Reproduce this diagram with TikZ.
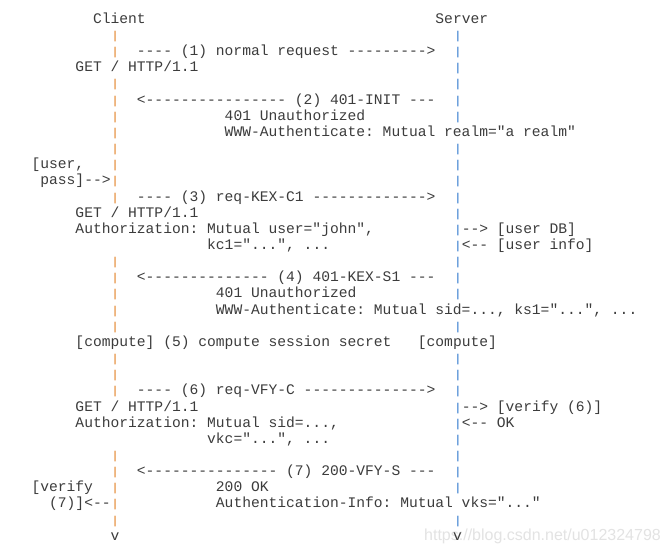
\documentclass[tikz,border=0pt]{standalone}
\usepackage{fontspec}
\usepackage{graphicx}
\newfontfamily\monof{Liberation Mono}[Ligatures=TeXOff]
\newfontfamily\wmfont{Liberation Sans}
\definecolor{txtc}{HTML}{3C3C3C}
\definecolor{clic}{HTML}{E89A50}
\definecolor{srvc}{HTML}{5B95D8}
\tikzset{
  txt/.style={anchor=base west, inner sep=0pt, outer sep=0pt,
    font=\monof\fontsize{14.63}{16}\selectfont\frenchspacing, text=txtc},
  clibar/.style={txt, text=clic},
  srvbar/.style={txt, text=srvc},
  wm/.style={anchor=base west, inner sep=0pt, font=\wmfont\fontsize{16}{18}\selectfont, text=gray!22}
}
\def\cw{8.78}
\def\xo{22.8}
\def\yb{23.4}
\def\lp{16.15}
\newcommand\tx[3]{\node[txt] (t#2c#1) at ({\xo+#1*\cw},{\yb+(#2-1)*\lp}) {#3};}
\newcommand\shortbar{\scalebox{1.15}[0.78]{|}}
\newcommand\clib[1]{\node[clibar] (cb#1) at ({\xo+10*\cw-0.6},{\yb+(#1-1)*\lp}) {\shortbar};}
\newcommand\srvb[1]{\node[srvbar] (sb#1) at ({\xo+49*\cw-0.2},{\yb+(#1-1)*\lp}) {\shortbar};}
\begin{document}
\begin{tikzpicture}[x=1pt,y=-1pt]
\useasboundingbox[fill=white] (0,0) rectangle (667,553);
% watermark
\node[wm] (wm) at (424,540) {https://blog.csdn.net/u012324798};
% lifelines
\foreach \r in {2,3,5,6,7,8,9,10,11,12,16,17,18,19,20,22,23,24,28,29,30,31,32} {\clib{\r}}
\foreach \r in {2,3,4,5,6,7,9,10,11,12,13,14,15,16,17,18,20,22,23,24,25,26,27,28,29,30,32} {\srvb{\r}}
% text rows
\tx{8}{1}{Client}
\tx{47}{1}{Server}
\tx{13}{3}{---- (1) normal request --------->}
\tx{6}{4}{GET / HTTP/1.1}
\tx{13}{6}{<---------------- (2) 401-INIT ---}
\tx{23}{7}{401 Unauthorized}
\tx{23}{8}{WWW-Authenticate: Mutual realm="a realm"}
\tx{1}{10}{[user,}
\tx{2}{11}{pass]-->}
\tx{13}{12}{---- (3) req-KEX-C1 ------------->}
\tx{6}{13}{GET / HTTP/1.1}
\tx{6}{14}{Authorization: Mutual user="john",}
\tx{50}{14}{--> [user DB]}
\tx{21}{15}{kc1="...", ...}
\tx{50}{15}{<-- [user info]}
\tx{13}{17}{<-------------- (4) 401-KEX-S1 ---}
\tx{22}{18}{401 Unauthorized}
\tx{22}{19}{WWW-Authenticate: Mutual sid=..., ks1="...", ...}
\tx{6}{21}{[compute] (5) compute session secret}
\tx{45}{21}{[compute]}
\tx{13}{24}{---- (6) req-VFY-C -------------->}
\tx{6}{25}{GET / HTTP/1.1}
\tx{50}{25}{--> [verify (6)]}
\tx{6}{26}{Authorization: Mutual sid=...,}
\tx{50}{26}{<-- OK}
\tx{21}{27}{vkc="...", ...}
\tx{13}{29}{<--------------- (7) 200-VFY-S ---}
\tx{1}{30}{[verify}
\tx{22}{30}{200 OK}
\tx{3}{31}{(7)]<--}
\tx{22}{31}{Authentication-Info: Mutual vks="..."}
\tx{10}{33}{v}
\tx{49}{33}{v}
\end{tikzpicture}
\end{document}
